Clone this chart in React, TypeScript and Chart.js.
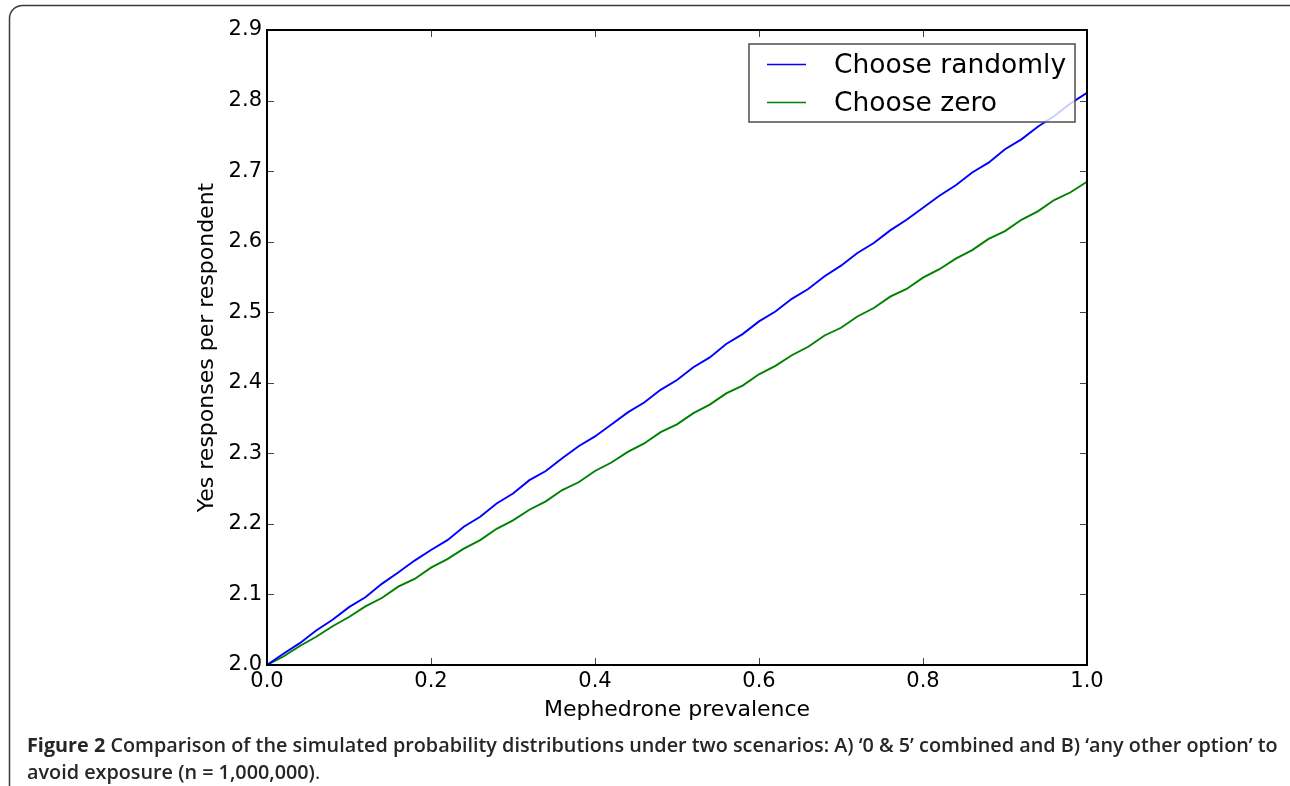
import React, { useEffect, useRef } from "react";
import { Chart, registerables } from "chart.js";

Chart.register(...registerables);

const prevalence: number[] = [
  0, 0.02, 0.04, 0.06, 0.08, 0.1, 0.12, 0.14, 0.16, 0.18, 0.2, 0.22, 0.24, 0.26, 0.28, 0.3, 0.32,
  0.34, 0.36, 0.38, 0.4, 0.42, 0.44, 0.46, 0.48, 0.5, 0.52, 0.54, 0.56, 0.58, 0.6, 0.62, 0.64, 0.66,
  0.68, 0.7, 0.72, 0.74, 0.76, 0.78, 0.8, 0.82, 0.84, 0.86, 0.88, 0.9, 0.92, 0.94, 0.96, 0.98, 1.0,
];

const chooseRandomly: number[] = [
  2.0, 2.016, 2.031, 2.049, 2.064, 2.082, 2.096, 2.115, 2.131, 2.148, 2.163, 2.177, 2.196, 2.21,
  2.229, 2.243, 2.262, 2.275, 2.293, 2.31, 2.324, 2.341, 2.358, 2.372, 2.39, 2.404, 2.422, 2.436,
  2.455, 2.469, 2.487, 2.501, 2.519, 2.533, 2.551, 2.566, 2.584, 2.598, 2.616, 2.631, 2.648, 2.665,
  2.68, 2.698, 2.712, 2.731, 2.745, 2.763, 2.778, 2.796, 2.811,
];

const chooseZero: number[] = [
  2.0, 2.012, 2.027, 2.04, 2.055, 2.068, 2.083, 2.095, 2.111, 2.122, 2.138, 2.15, 2.165, 2.177,
  2.193, 2.205, 2.22, 2.232, 2.248, 2.259, 2.275, 2.287, 2.302, 2.314, 2.33, 2.341, 2.357, 2.369,
  2.385, 2.396, 2.412, 2.424, 2.439, 2.451, 2.467, 2.478, 2.494, 2.506, 2.522, 2.533, 2.549, 2.561,
  2.576, 2.588, 2.604, 2.615, 2.631, 2.643, 2.659, 2.67, 2.685,
];

const xTicks: number[] = [0, 0.2, 0.4, 0.6, 0.8, 1.0];
const yTicks: number[] = [2.0, 2.1, 2.2, 2.3, 2.4, 2.5, 2.6, 2.7, 2.8, 2.9];

const seriesLabels: string[] = ["Choose randomly", "Choose zero"];
const seriesColors: string[] = ["#0000ff", "#008000"];

const xTitle = "Mephedrone prevalence";
const yTitle = "Yes responses per respondent";
const captionBold = "Figure 2";
const captionLine1 = " Comparison of the simulated probability distributions under two scenarios: A) \u20180 & 5\u2019 combined and B) \u2018any other option\u2019 to";
const captionLine2 = "avoid exposure (n = 1,000,000)";
const captionEnd = ".";

const W = 1290;
const H = 786;
const FONT = "'DejaVu Sans', sans-serif";
const CAP_FONT = "'Open Sans', 'Noto Sans', sans-serif";

const decorPlugin = {
  id: "decor",
  beforeDraw(chart: any) {
    const ctx = chart.ctx as CanvasRenderingContext2D;
    ctx.save();
    ctx.fillStyle = "#ffffff";
    ctx.fillRect(0, 0, W, H);
    // figure frame
    ctx.strokeStyle = "#3a3a3a";
    ctx.lineWidth = 1.5;
    const x0 = 9.5, y0 = 5.5, r = 13;
    ctx.beginPath();
    ctx.moveTo(x0, H + 20);
    ctx.lineTo(x0, y0 + r);
    ctx.arcTo(x0, y0, x0 + r, y0, r);
    ctx.lineTo(W + 20, y0);
    ctx.stroke();

    // caption
    ctx.fillStyle = "#262626";
    ctx.textBaseline = "alphabetic";
    ctx.textAlign = "left";
    let size = 19;
    const target = 1278 - 27;
    ctx.font = `700 ${size}px ${CAP_FONT}`;
    let wb = ctx.measureText(captionBold).width;
    ctx.font = `600 ${size}px ${CAP_FONT}`;
    const wr = ctx.measureText(captionLine1).width;
    size = size * target / (wb + wr);
    ctx.font = `700 ${size}px ${CAP_FONT}`;
    ctx.fillText(captionBold, 27, 752);
    wb = ctx.measureText(captionBold).width;
    ctx.font = `600 ${size}px ${CAP_FONT}`;
    ctx.fillText(captionLine1, 27 + wb, 752);
    ctx.fillText(captionLine2, 27, 779);
    const w2 = ctx.measureText(captionLine2).width;
    ctx.font = `400 ${size}px ${CAP_FONT}`;
    ctx.fillText(captionEnd, 27 + w2, 779);
    ctx.restore();
  },
  afterDatasetsDraw(chart: any) {
    const ctx = chart.ctx as CanvasRenderingContext2D;
    const { left, right, top, bottom } = chart.chartArea;
    const xs = chart.scales.x;
    const ys = chart.scales.y;
    ctx.save();
    // inward ticks
    ctx.strokeStyle = "#444";
    ctx.lineWidth = 1;
    const tl = 7;
    ctx.beginPath();
    for (const t of xTicks) {
      const px = Math.round(xs.getPixelForValue(t)) + 0.5;
      ctx.moveTo(px, bottom);
      ctx.lineTo(px, bottom - tl);
      ctx.moveTo(px, top);
      ctx.lineTo(px, top + tl);
    }
    for (const t of yTicks) {
      const py = Math.round(ys.getPixelForValue(t)) + 0.5;
      ctx.moveTo(left, py);
      ctx.lineTo(left + tl, py);
      ctx.moveTo(right, py);
      ctx.lineTo(right - tl, py);
    }
    ctx.stroke();
    // axes box
    ctx.strokeStyle = "#000";
    ctx.lineWidth = 2;
    ctx.strokeRect(left, top, right - left, bottom - top);

    // legend
    const lx = 749, ly = 44, lw = 326, lh = 78;
    ctx.fillStyle = "rgba(255,255,255,0.8)";
    ctx.fillRect(lx, ly, lw, lh);
    ctx.strokeStyle = "#4d4d4d";
    ctx.lineWidth = 1.5;
    ctx.strokeRect(lx, ly, lw, lh);
    const rows = [64.5, 102.5];
    ctx.font = `26.5px ${FONT}`;
    ctx.textBaseline = "middle";
    ctx.textAlign = "left";
    chart.data.datasets.forEach((ds: any, i: number) => {
      ctx.strokeStyle = ds.borderColor;
      ctx.lineWidth = 1.6;
      ctx.beginPath();
      ctx.moveTo(767, rows[i]);
      ctx.lineTo(806, rows[i]);
      ctx.stroke();
      ctx.fillStyle = "#000";
      ctx.fillText(ds.label, 834, rows[i] + 2);
    });
    ctx.restore();
  },
};

export default function App() {
  const ref = useRef<HTMLCanvasElement | null>(null);
  useEffect(() => {
    if (!ref.current) return;
    const datasets = [chooseRandomly, chooseZero].map((vals, i) => ({
      label: seriesLabels[i],
      data: prevalence.map((x, j) => ({ x, y: vals[j] })),
      borderColor: seriesColors[i],
      backgroundColor: seriesColors[i],
      borderWidth: 1.9,
      pointRadius: 0,
      tension: 0,
      fill: false,
    }));
    const chart = new Chart(ref.current, {
      type: "line",
      data: { datasets },
      plugins: [decorPlugin],
      options: {
        responsive: false,
        animation: false,
        devicePixelRatio: window.devicePixelRatio || 1,
        layout: { padding: { left: 0, right: W - 1087, top: 30, bottom: 0 } },
        plugins: { legend: { display: false }, tooltip: { enabled: false }, title: { display: false } },
        scales: {
          x: {
            type: "linear",
            min: 0,
            max: 1,
            afterBuildTicks: (s: any) => {
              s.ticks = xTicks.map((v) => ({ value: v }));
            },
            afterFit: (s: any) => {
              s.height = H - 665;
            },
            ticks: {
              autoSkip: false,
              maxRotation: 0,
              padding: 4,
              color: "#000",
              font: { family: FONT, size: 21 },
              callback: (v: any) => Number(v).toFixed(1),
            },
            grid: { display: false, drawTicks: false },
            border: { display: false },
            title: {
              display: true,
              text: xTitle,
              color: "#000",
              font: { family: FONT, size: 22 },
              padding: { top: 0, bottom: H - 710 - 13 },
            },
          },
          y: {
            type: "linear",
            min: 2.0,
            max: 2.9,
            afterBuildTicks: (s: any) => {
              s.ticks = yTicks.map((v) => ({ value: v }));
            },
            afterFit: (s: any) => {
              s.width = 267;
            },
            ticks: {
              autoSkip: false,
              padding: 5,
              color: "#000",
              font: { family: FONT, size: 21 },
              callback: (v: any) => Number(v).toFixed(1),
            },
            grid: { display: false, drawTicks: false },
            border: { display: false },
            title: {
              display: true,
              text: yTitle,
              color: "#000",
              font: { family: FONT, size: 22 },
              padding: { top: 207 - 13, bottom: 0 },
            },
          },
        },
      },
    });
    return () => chart.destroy();
  }, []);
  return (
    <div style={{ position: "absolute", left: 0, top: 0, width: W, height: H }}>
      <canvas ref={ref} width={W} height={H} style={{ width: W, height: H, display: "block" }} />
    </div>
  );
}
